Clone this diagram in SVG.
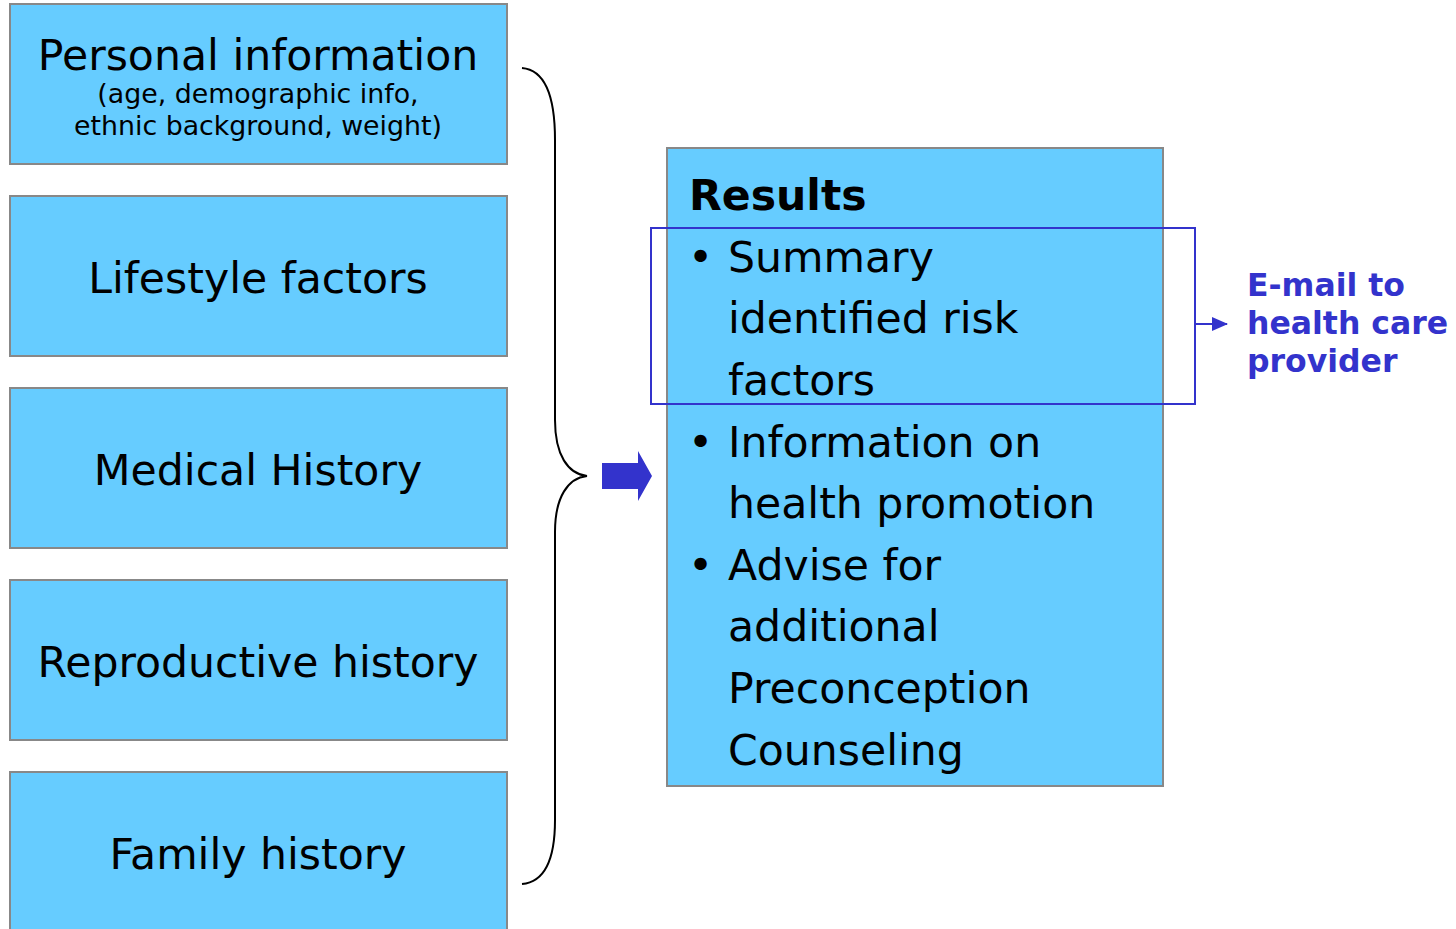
<svg xmlns="http://www.w3.org/2000/svg" width="1456" height="929" viewBox="0 0 1456 929">
<defs>
<style>
.box{fill:#66CCFF;stroke:#888888;stroke-width:2}
.t{font-family:"DejaVu Sans","Noto Sans",sans-serif;fill:#000}
.big{font-size:42.6px}
.sub{font-size:26.8px}
.blue{font-family:"DejaVu Sans","Noto Sans",sans-serif;font-weight:bold;font-size:31.5px;fill:#3333CC}
</style>
<marker id="ah" markerWidth="16" markerHeight="14" refX="15" refY="7" orient="auto" markerUnits="userSpaceOnUse">
<path d="M0,0 L16,7 L0,14 Z" fill="#3333CC"/>
</marker>
</defs>
<rect width="1456" height="929" fill="#ffffff"/>
<g id="personal">
<rect class="box" x="10" y="4" width="497" height="160"/>
<text class="t big" x="258" y="70" text-anchor="middle">Personal information</text>
<text class="t sub" x="258" y="103" text-anchor="middle">(age, demographic info,</text>
<text class="t sub" x="258" y="135" text-anchor="middle">ethnic background, weight)</text>
</g>
<g id="lifestyle">
<rect class="box" x="10" y="196" width="497" height="160"/>
<text class="t big" x="258" y="293" text-anchor="middle">Lifestyle factors</text>
</g>
<g id="medical">
<rect class="box" x="10" y="388" width="497" height="160"/>
<text class="t big" x="258" y="485" text-anchor="middle">Medical History</text>
</g>
<g id="reproductive">
<rect class="box" x="10" y="580" width="497" height="160"/>
<text class="t big" x="258" y="677" text-anchor="middle">Reproductive history</text>
</g>
<g id="family">
<rect class="box" x="10" y="772" width="497" height="170"/>
<text class="t big" x="258" y="869" text-anchor="middle">Family history</text>
</g>
<g id="results">
<rect class="box" x="667" y="148" width="496" height="638"/>
<text class="t" x="689" y="210" font-size="42.6" font-weight="bold">Results</text>
<g class="t big">
<text x="688" y="272">•</text>
<text x="728" y="272">Summary</text>
<text x="728" y="333">identified risk</text>
<text x="728" y="395">factors</text>
<text x="688" y="457">•</text>
<text x="728" y="457">Information on</text>
<text x="728" y="518">health promotion</text>
<text x="688" y="580">•</text>
<text x="728" y="580">Advise for</text>
<text x="728" y="641">additional</text>
<text x="728" y="703">Preconception</text>
<text x="728" y="765">Counseling</text>
</g>
</g>
<g id="highlight">
<rect x="651" y="228" width="544" height="176" fill="none" stroke="#3333CC" stroke-width="2"/>
</g>
<g id="email">
<text class="blue" x="1247" y="296">E-mail to</text>
<text class="blue" x="1247" y="334">health care</text>
<text class="blue" x="1247" y="372">provider</text>
</g>
<g id="connectors">
<path d="M522,68 C545,70 555,95 555,140 L555,420 C555,455 568,474 587,476 C568,478 555,497 555,532 L555,820 C555,860 545,882 522,884" fill="none" stroke="#000" stroke-width="2"/>
<path d="M602,463 L638,463 L638,451 L652,476 L638,501 L638,489 L602,489 Z" fill="#3333CC"/>
<line x1="1195" y1="324" x2="1227" y2="324" stroke="#3333CC" stroke-width="2" marker-end="url(#ah)"/>
</g>
</svg>
